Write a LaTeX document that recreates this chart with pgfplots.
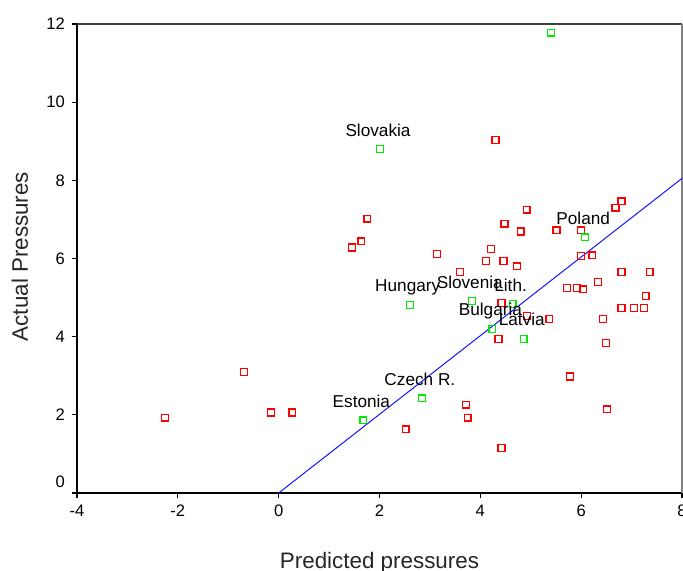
\documentclass[border=0pt]{standalone}
\usepackage{fontspec}
\setmainfont{Liberation Sans}
\usepackage{pgfplots}
\pgfplotsset{compat=1.18}
\definecolor{ptred}{RGB}{255,0,0}
\definecolor{ptgreen}{RGB}{0,235,0}
\definecolor{lineblue}{RGB}{20,20,255}
\begin{document}
\begin{tikzpicture}
\begin{axis}[
  scale only axis, width=302.5pt, height=234.5pt,
  xmin=-4, xmax=8, ymin=0, ymax=12,
  xtick={-4,-2,...,8}, ytick={2,4,...,12},
  extra y ticks={0},
  extra y tick style={yticklabel style={yshift=5.5pt}},
  xtick pos=left, ytick pos=left, tick align=outside, major tick length=2.5pt,
  tick style={black, line width=0.6pt},
  axis line style={draw=none},
  ticklabel style={font=\fontsize{8.3}{10}\selectfont},
  /pgf/number format/assume math mode=true,
  clip=false,
]
\coordinate (sw) at (rel axis cs:0,0);
\coordinate (ne) at (rel axis cs:1,1);
\draw[black, line width=1pt] (rel axis cs:0,1) -- (rel axis cs:0,0) -- (rel axis cs:1,0);
\draw[black!75, line width=0.8pt] (rel axis cs:0,1) -- (rel axis cs:1,1);
\draw[black!50, line width=0.6pt] (rel axis cs:1,1) -- (rel axis cs:1,0);
% red points
\addplot[only marks, mark=square, color=ptred, mark size=1.7pt, line width=0.65pt] coordinates {
(-2.25,1.93) (-0.69,3.10) (-0.15,2.06) (0.27,2.06) (1.45,6.28) (1.64,6.44) (1.76,7.02)
(3.14,6.11) (3.60,5.65) (4.21,6.24) (4.11,5.93) (4.46,5.93) (4.73,5.80) (4.48,6.89)
(4.80,6.69) (4.92,7.25) (4.30,9.03) (5.51,6.72) (6.00,6.72) (6.68,7.30) (6.80,7.46)
(6.00,6.06) (6.22,6.08) (6.80,5.65) (7.36,5.65) (6.33,5.40) (5.72,5.24) (5.92,5.24)
(6.04,5.21) (7.28,5.04) (6.80,4.73) (7.05,4.73) (7.25,4.73) (6.43,4.45) (5.37,4.45)
(6.49,3.84) (4.42,4.86) (4.93,4.53) (4.36,3.94) (3.72,2.26) (3.75,1.93) (2.52,1.63)
(5.78,2.98) (6.51,2.14) (4.42,1.15)
};
% fit line
\addplot[lineblue, line width=0.5pt, no marks] coordinates {(0,0) (8,8.05)};
% green points
\addplot[only marks, mark=square, color=ptgreen, mark size=1.7pt, line width=0.65pt] coordinates {(5.40,11.78)};
\addplot[only marks, mark=square, color=ptgreen, mark size=1.7pt, line width=0.65pt,
  point meta=explicit symbolic, nodes near coords,
  every node near coord/.style={anchor=base, yshift=6.5pt, xshift=-1pt, inner sep=0pt,
    text=black, font=\fontsize{8.6}{10}\selectfont}] coordinates {
(2.01,8.80) [Slovakia]
(6.08,6.54) [Poland]
(2.60,4.81) [Hungary]
(3.83,4.91) [Slovenia]
(4.64,4.83) [Lith.]
(4.24,4.20) [Bulgaria]
(4.86,3.94) [Latvia]
(2.84,2.42) [Czech R.]
(1.68,1.86) [Estonia]
};
\coordinate (ylab) at (rel axis cs:-0.081,0.504);
\coordinate (xlab) at (rel axis cs:0.5,-0.162);
\end{axis}
\node[rotate=90, anchor=base, inner sep=0pt, text=black!85, font=\fontsize{11.2}{13}\selectfont] at (ylab) {Actual Pressures};
\node[anchor=base, inner sep=0pt, text=black!85, font=\fontsize{11.2}{13}\selectfont] at (xlab) {Predicted pressures};
\pgfresetboundingbox
\path[use as bounding box] ([xshift=-38.5pt,yshift=-39pt]sw) rectangle ([xshift=0.5pt,yshift=12pt]ne);
\end{tikzpicture}
\end{document}
